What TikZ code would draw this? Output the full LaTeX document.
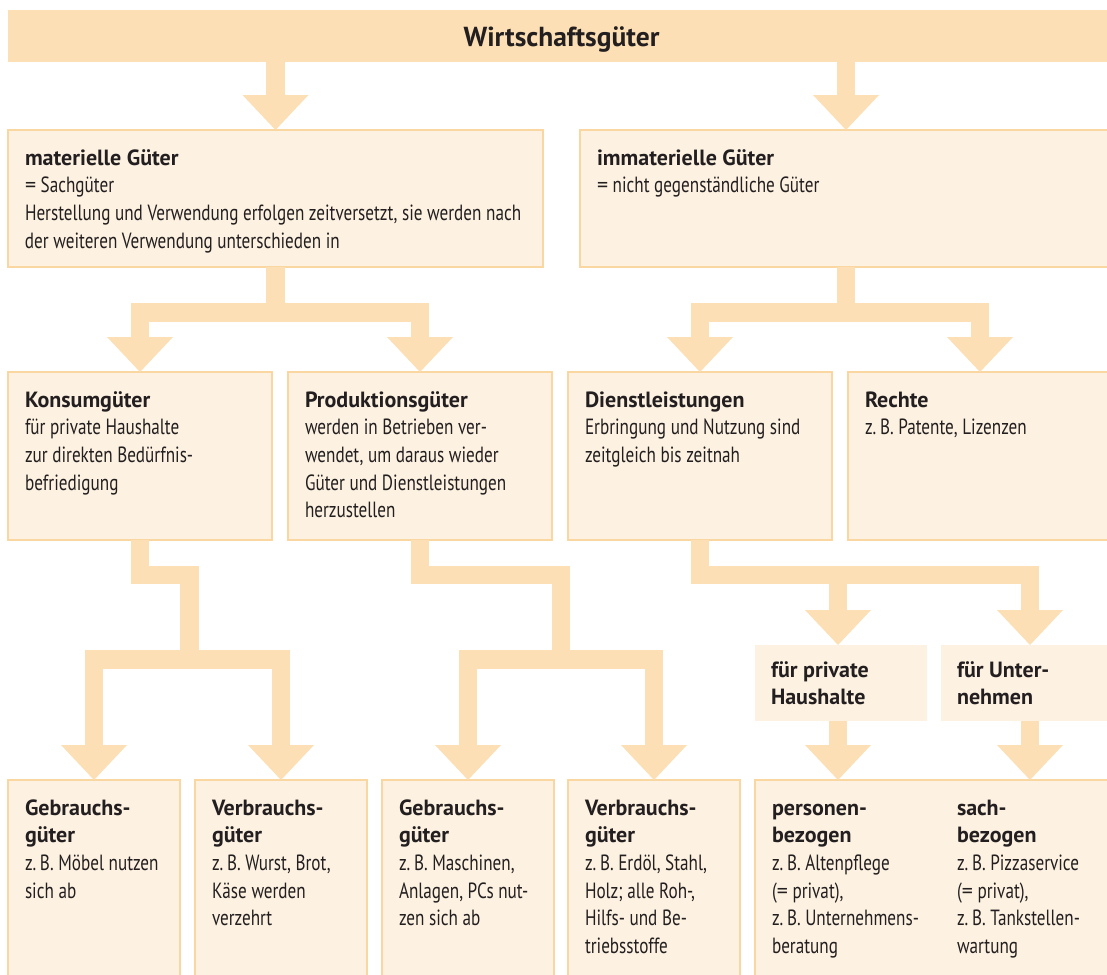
\documentclass[tikz,border=0pt]{standalone}
\usepackage{fontspec}
\setmainfont{PT Sans}[FakeStretch=0.78]
\newfontfamily\hdfont{PT Sans}
\usetikzlibrary{arrows.meta}
\definecolor{arr}{RGB}{252,223,180}
\definecolor{boxfill}{RGB}{253,242,225}
\definecolor{boxline}{RGB}{250,214,160}
\definecolor{txt}{RGB}{35,31,32}
\newcommand{\hd}[1]{{\hdfont\fontsize{22}{27.7}\selectfont\bfseries #1}}
\newcommand{\eq}{{\hdfont =}}
\newcommand{\ml}[1]{\vtop{\halign{##\hfil\cr #1\crcr}}}
\begin{document}
\begin{tikzpicture}[x=1pt,y=-1pt,
  box/.style={draw=boxline, line width=1.3pt, fill=boxfill, inner sep=0pt, outer sep=0pt, anchor=north west},
  plainbox/.style={fill=boxfill, inner sep=0pt, outer sep=0pt, anchor=north west},
  txtn/.style={anchor=base west, inner sep=0pt, outer sep=0pt, font=\fontsize{22}{27.7}\selectfont, text=txt},
  conn/.style={draw=arr, line width=18.5pt, line join=miter, line cap=butt},
  >={Triangle[width=66pt,length=35pt,line width=0pt]}]
\useasboundingbox (0,0) rectangle (1107,974);
\clip (0,0) rectangle (1107,974);

% title
\node[fill=arr, inner sep=0pt, outer sep=0pt, anchor=north west, minimum width=1107pt, minimum height=52pt] (title) at (8,10) {};
\node[anchor=base, inner sep=0pt, font=\hdfont\fontsize{27.5}{32}\selectfont\bfseries, text=txt] (title-t) at (561.5,46) {Wirtschaftsgüter};

% level 1
\node[box, minimum width=535pt, minimum height=137pt] (mat) at (8,130) {};
\node[box, minimum width=532pt, minimum height=137pt] (immat) at (580,130) {};
% level 2
\node[box, minimum width=264pt, minimum height=168pt] (kons) at (8,372) {};
\node[box, minimum width=264pt, minimum height=168pt] (prod) at (288,372) {};
\node[box, minimum width=264pt, minimum height=168pt] (dienst) at (568,372) {};
\node[box, minimum width=264pt, minimum height=168pt] (rechte) at (848,372) {};
% intermediate
\node[plainbox, minimum width=172pt, minimum height=76pt] (fpriv) at (755,645) {};
\node[plainbox, minimum width=178pt, minimum height=76pt] (funt) at (941,645) {};
% level 3
\node[box, minimum width=172pt, minimum height=210pt] (gebr1) at (8,780) {};
\node[box, minimum width=172pt, minimum height=210pt] (verb1) at (195,780) {};
\node[box, minimum width=172pt, minimum height=210pt] (gebr2) at (382,780) {};
\node[box, minimum width=172pt, minimum height=210pt] (verb2) at (568,780) {};
\node[box, minimum width=365pt, minimum height=210pt] (pers) at (755,780) {};

% connectors
\draw[conn,->] (mat.north |- title.south) -- (mat.north);
\draw[conn,->] (immat.north |- title.south) -- (immat.north);

\coordinate (j1) at (275.5,312.5);
\draw[conn] (mat.south) -- (j1);
\draw[conn,<->] (kons.north) |- (j1) -| (prod.north);

\coordinate (j2) at (846,312.5);
\draw[conn] (immat.south) -- (j2);
\draw[conn,<->] (dienst.north) |- (j2) -| (rechte.north);

\coordinate (k1) at (189.5,575);
\coordinate (k2) at (189.5,659.5);
\draw[conn] (kons.south) |- (k1) -- (k2);
\draw[conn,<->] (gebr1.north) |- (k2) -| (verb1.north);

\coordinate (p1) at (561,575);
\coordinate (p2) at (561,659.5);
\draw[conn] (prod.south) |- (p1) -- (p2);
\draw[conn,<->] (gebr2.north) |- (p2) -| (verb2.north);

\coordinate (d1) at (1030,575);
\coordinate (d2) at (838,575);
\draw[conn,->] (dienst.south) |- (d1) -- (d1 |- funt.north);
\draw[conn,->] (d2) -- (d2 |- fpriv.north);

\coordinate (d3) at (838,721);
\draw[conn,->] (d3) -- (d3 |- pers.north);
\draw[conn,->] (funt.south) -- (funt.south |- pers.north);

% texts
\node[txtn] (mat-t) at (25,165) {\ml{\hd{materielle Güter}\cr \eq{} Sachgüter\cr Herstellung und Verwendung erfolgen zeitversetzt, sie werden nach\cr der weiteren Verwendung unterschieden in}};
\node[txtn] (immat-t) at (597,165) {\ml{\hd{immaterielle Güter}\cr \eq{} nicht gegenständliche Güter}};
\node[txtn] (kons-t) at (25,407) {\ml{\hd{Konsumgüter}\cr für private Haushalte\cr zur direkten Bedürfnis-\cr befriedigung}};
\node[txtn] (prod-t) at (305,407) {\ml{\hd{Produktionsgüter}\cr werden in Betrieben ver-\cr wendet, um daraus wieder\cr Güter und Dienstleistungen\cr herzustellen}};
\node[txtn] (dienst-t) at (585,407) {\ml{\hd{Dienstleistungen}\cr Erbringung und Nutzung sind\cr zeitgleich bis zeitnah}};
\node[txtn] (rechte-t) at (865,407) {\ml{\hd{Rechte}\cr z.\,B. Patente, Lizenzen}};
\node[txtn] (fpriv-t) at (771,677) {\ml{\hd{für private}\cr \hd{Haushalte}}};
\node[txtn] (funt-t) at (957,677) {\ml{\hd{für Unter-}\cr \hd{nehmen}}};
\node[txtn] (gebr1-t) at (25,815) {\ml{\hd{Gebrauchs-}\cr \hd{güter}\cr z.\,B. Möbel nutzen\cr sich ab}};
\node[txtn] (verb1-t) at (212,815) {\ml{\hd{Verbrauchs-}\cr \hd{güter}\cr z.\,B. Wurst, Brot,\cr Käse werden\cr verzehrt}};
\node[txtn] (gebr2-t) at (399,815) {\ml{\hd{Gebrauchs-}\cr \hd{güter}\cr z.\,B. Maschinen,\cr Anlagen, PCs nut-\cr zen sich ab}};
\node[txtn] (verb2-t) at (585,815) {\ml{\hd{Verbrauchs-}\cr \hd{güter}\cr z.\,B. Erdöl, Stahl,\cr Holz; alle Roh-,\cr Hilfs- und Be-\cr triebsstoffe}};
\node[txtn] (pers-t) at (772,815) {\ml{\hd{personen-}\cr \hd{bezogen}\cr z.\,B. Altenpflege\cr (\eq{} privat),\cr z.\,B. Unternehmens-\cr beratung}};
\node[txtn] (sach-t) at (957,815) {\ml{\hd{sach-}\cr \hd{bezogen}\cr z.\,B. Pizzaservice\cr (\eq{} privat),\cr z.\,B. Tankstellen-\cr wartung}};
\end{tikzpicture}
\end{document}
